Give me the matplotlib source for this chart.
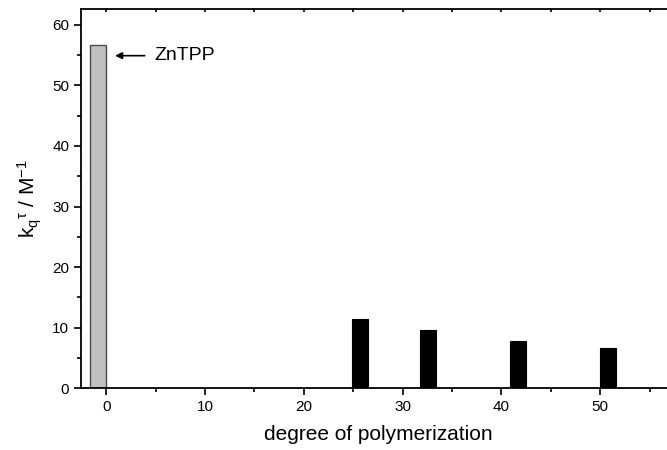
import numpy as np
import matplotlib
matplotlib.use("Agg")
import matplotlib.pyplot as plt
from matplotlib.ticker import MultipleLocator

plt.rcParams['font.family'] = ['Liberation Sans', 'DejaVu Sans']
plt.rcParams['mathtext.fontset'] = 'custom'
plt.rcParams['mathtext.rm'] = 'Liberation Sans'
plt.rcParams['mathtext.it'] = 'Liberation Sans'

# monomer reference (ZnTPP)
ref_x = [-0.8]
ref_kt = [56.6]

# polymers
poly_x = [25.7, 32.6, 41.7, 50.8]
poly_kt = [11.4, 9.7, 7.8, 6.6]

fig = plt.figure(figsize=(6.67, 4.5), dpi=100)
ax = fig.add_axes([0.1214, 0.137, 0.891, 0.843])

ax.bar(ref_x, ref_kt, width=1.6, color='#c0c0c0', edgecolor='#4a4a4a', linewidth=1)
ax.bar(poly_x, poly_kt, width=1.6, color='black', edgecolor='black', linewidth=0.8)

ax.annotate('', xy=(0.9, 54.9), xytext=(3.9, 54.9),
            arrowprops=dict(arrowstyle='-|>', color='black', lw=1.2,
                            mutation_scale=10, shrinkA=0, shrinkB=0))
ax.text(4.9, 54.9, 'ZnTPP', fontsize=14, va='center', ha='left')

ax.set_xlim(-2.55, 57.6)
ax.set_ylim(0, 62.6)
ax.xaxis.set_major_locator(MultipleLocator(10))
ax.xaxis.set_minor_locator(MultipleLocator(5))
ax.yaxis.set_major_locator(MultipleLocator(10))
ax.yaxis.set_minor_locator(MultipleLocator(5))

ax.tick_params(which='both', direction='out', labelsize=11, width=1.2)
ax.tick_params(which='major', length=5)
ax.tick_params(which='minor', length=3)
ax.tick_params(axis='x', which='both', top=True)

for s in ax.spines.values():
    s.set_linewidth(1.3)

# top ticks: tiny inward marks
for t in ax.xaxis.get_major_ticks() + ax.xaxis.get_minor_ticks():
    t.tick2line.set_marker(3)
    t.tick2line.set_markersize(2)

ax.set_xlabel('degree of polymerization', fontsize=15, labelpad=8)
ax.set_ylabel(r'k$_\mathregular{q}$$^\mathregular{\tau}$ / M$^\mathregular{-1}$', fontsize=15, labelpad=6)

fig.savefig('out.png', dpi=100)
